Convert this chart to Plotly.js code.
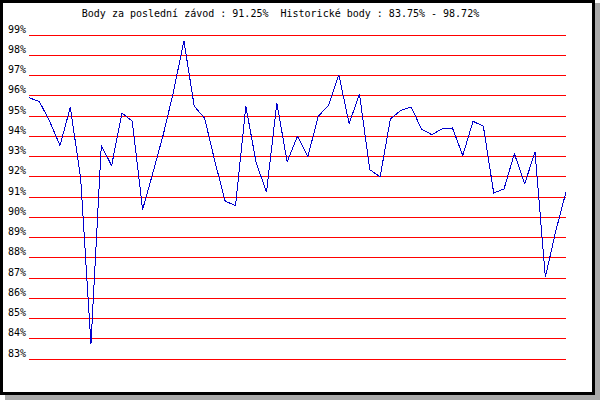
<!DOCTYPE html>
<html>
<head>
<meta charset="utf-8">
<script src="https://cdn.plot.ly/plotly-3.0.1.min.js"></script>
<style>
  html, body { margin: 0; padding: 0; background: #ffffff; }
  #chart { width: 600px; height: 400px; }
  .scatterlayer path.js-line { shape-rendering: crispEdges; }
  .gridlayer path { stroke: #ff0000 !important; stroke-opacity: 1 !important; shape-rendering: crispEdges; }
</style>
</head>
<body>
<div id="chart"></div>
<script>
// Points per race (percent)
const racePoints = [
  95.9, 95.72, 94.74, 93.54, 95.43, 91.94, 83.75, 93.54, 92.55, 95.15,
  94.74, 90.38, 92.2, 94.08, 96.22, 98.72, 95.48, 94.9, 92.76, 90.79,
  90.58, 95.48, 92.68, 91.25, 95.64, 92.73, 94.0, 92.98, 94.98, 95.53,
  97.04, 94.62, 96.09, 92.35, 92.0, 94.86, 95.27, 95.45, 94.36, 94.08,
  94.36, 94.41, 93.05, 94.74, 94.49, 91.2, 91.4, 93.14, 91.65, 93.23,
  87.04, 89.3, 91.25
];
const tickValues = [83, 84, 85, 86, 87, 88, 89, 90, 91, 92, 93, 94, 95, 96, 97, 98, 99];
const tickLabels = ["83%", "84%", "85%", "86%", "87%", "88%", "89%", "90%", "91%", "92%", "93%", "94%", "95%", "96%", "97%", "98%", "99%"];
const titleText = "Body za poslední závod : 91.25%  Historické body : 83.75% - 98.72%";

const W = 600, H = 400;
const M = { l: 29, r: 34, t: 33, b: 38 };
const PW = W - M.l - M.r, PH = H - M.t - M.b;
const pxPerUnit = 20.25;
function px(x) { return (x - M.l) / PW; }
function py(y) { return (H - M.b - y) / PH; }

const font = { family: "DejaVu Sans Mono, Liberation Mono, monospace", size: 10, color: "#000000" };

const trace = {
  y: racePoints,
  type: "scatter",
  mode: "lines",
  line: { color: "#0000cc", width: 1 },
  cliponaxis: false,
  hoverinfo: "skip"
};

const layout = {
  width: W, height: H,
  margin: M,
  paper_bgcolor: "#ffffff",
  plot_bgcolor: "#ffffff",
  showlegend: false,
  font: font,
  title: {
    text: titleText,
    font: font,
    xref: "container", yref: "container",
    x: 280.5 / W, xanchor: "center",
    y: 1 - 13.5 / H, yanchor: "middle",
    pad: { t: 0, b: 0, l: 0, r: 0 }
  },
  xaxis: {
    range: [0, racePoints.length - 1],
    showgrid: false, zeroline: false, showline: false,
    showticklabels: false, ticks: ""
  },
  yaxis: {
    // pad the range by a few pixels so the 83% and 99% gridlines are kept
    range: [83 - 3 / pxPerUnit, 99 + 2 / pxPerUnit],
    tickmode: "array",
    tickvals: tickValues,
    ticktext: tickLabels,
    showgrid: true, gridcolor: "rgb(255,0,0)", gridwidth: 1,
    zeroline: false, showline: false, ticks: "",
    ticklabelshift: -6,
    ticklabelstandoff: 2,
    tickfont: font
  },
  shapes: [
    // gray drop shadow (right and bottom)
    { type: "rect", xref: "paper", yref: "paper", layer: "above",
      x0: px(595), x1: px(600), y0: py(3), y1: py(400),
      fillcolor: "#aaaaaa", line: { width: 0 } },
    { type: "rect", xref: "paper", yref: "paper", layer: "above",
      x0: px(5), x1: px(600), y0: py(395), y1: py(400),
      fillcolor: "#aaaaaa", line: { width: 0 } },
    // black frame
    { type: "rect", xref: "paper", yref: "paper", layer: "above",
      x0: px(1.5), x1: px(593.5), y0: py(1.5), y1: py(393.5),
      fillcolor: "rgba(0,0,0,0)", line: { color: "#000000", width: 3 } }
  ]
};

Plotly.newPlot("chart", [trace], layout, { staticPlot: true, displayModeBar: false });
</script>
</body>
</html>
